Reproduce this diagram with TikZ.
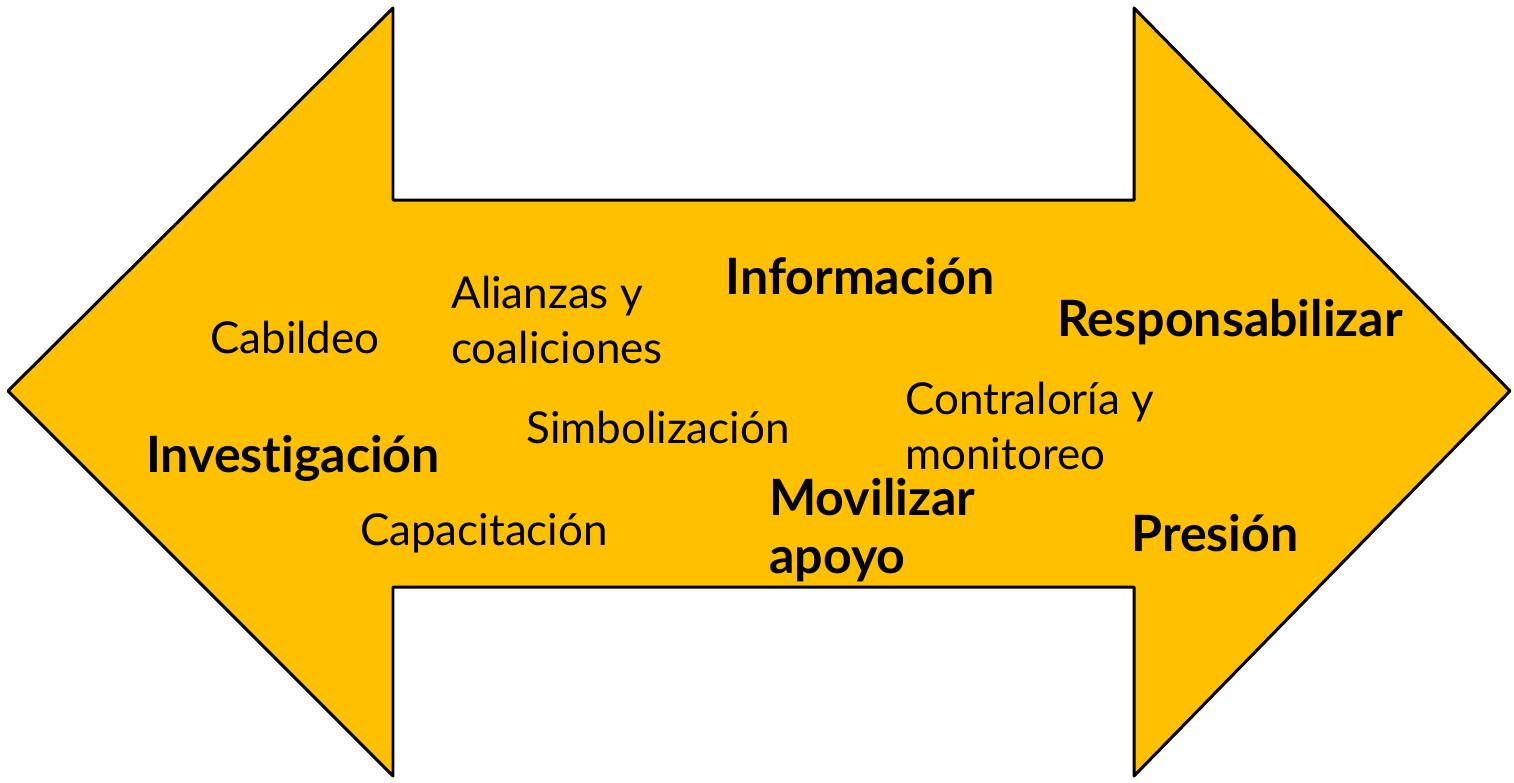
\documentclass[tikz,border=0pt]{standalone}
\usepackage{fontspec}
\setmainfont{Lato}[Ligatures=NoCommon]
\usetikzlibrary{positioning}
\definecolor{arrowfill}{HTML}{FFC000}
\tikzset{font=\fontsize{25}{31}\selectfont}
\tikzset{every node/.append style={inner sep=0pt}}
\tikzset{plain/.style={align=left}, strong/.style={align=left,font=\fontsize{28.5}{33}\selectfont\bfseries}}

\begin{document}
\begin{tikzpicture}[x=0.02cm,y=-0.02cm]
  \useasboundingbox (0,0) rectangle (1514,782);
  % double arrow
  \draw[fill=arrowfill,line width=1.7pt,line join=round]
    (8,391) -- (393,8) -- (393,200) -- (1134,200) -- (1134,8) -- (1510,391)
    -- (1134,776) -- (1134,587) -- (393,587) -- (393,776) -- cycle;

  \node[plain] (cabildeo) at (295,337) {Cabildeo};
  \node[plain,anchor=west] (alianzas) at (451,320) {Alianzas y\\coaliciones};
  \node[strong] (informacion) at (860,276) {Información};
  \node[strong] (responsabilizar) at (1230,322) {Responsabilizar};
  \node[plain,anchor=west] (contraloria) at (905,426) {Contraloría y\\monitoreo};
  \node[plain] (simbolizacion) at (658,427) {Simbolización};
  \node[strong] (investigacion) at (293,458) {Investigación};
  \node[plain] (capacitacion) at (484,533) {Capacitación};
  \node[strong,anchor=west] (movilizar) at (769,530) {Movilizar\\apoyo};
  \node[strong] (presion) at (1215,533) {Presión};
\end{tikzpicture}
\end{document}
